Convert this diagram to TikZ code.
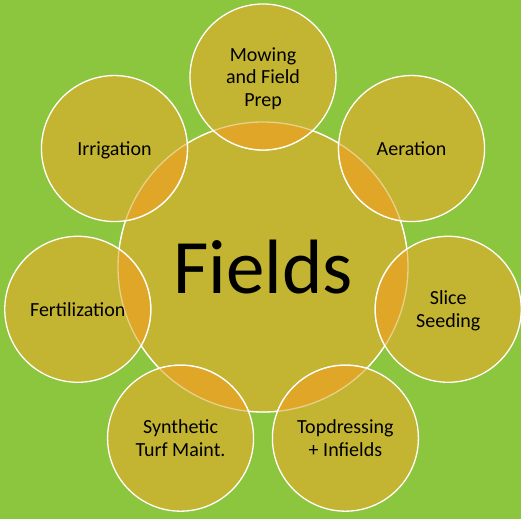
\documentclass[tikz,border=0pt]{standalone}
\usepackage{fontspec}
\setmainfont{Carlito}
\usepackage{xcolor}
\usepackage{tikz}
\usetikzlibrary{positioning}

\definecolor{grass}{HTML}{8CC63F}
\definecolor{olive}{HTML}{C3B531}
\definecolor{lens}{HTML}{E0A628}

\begin{document}
\begin{tikzpicture}[
  x=1pt, y=1pt,
  hub/.style={circle, fill=olive, draw=white, line width=1.3pt, inner sep=0pt, minimum size=290pt, font=\fontsize{77}{80}\selectfont},
  task/.style={circle, fill=olive, draw=white, line width=1.3pt, inner sep=0pt, minimum size=146pt, text depth=0pt, align=center, font=\fontsize{20}{22.5}\selectfont},
  rim/.style={draw=white, line width=1.3pt}
]
  % background
  \fill[grass] (-263,-252) rectangle (258,267);
  \useasboundingbox (-263,-252) rectangle (258,267);

  \node[hub] (fields) at (0,0) {Fields};

  \node[task] (mow) at (90:190) {Mowing\\and Field\\Prep};
  \node[task] (aer) at (38.57:190) {Aeration};
  \node[task] (slice) at (-12.86:190) {Slice\\Seeding};
  \node[task] (top) at (-64.29:190) {Topdressing\\+ Infields};
  \node[task] (syn) at (-115.71:190) {Synthetic\\Turf Maint.};
  \node[task] (fert) at (-167.14:190) {Fertilization};
  \node[task] (irr) at (141.43:190) {Irrigation};

  % overlaps with the hub
  \begin{scope}
    \clip (fields.center) circle (145);
    \fill[lens] (mow.center) circle (73);
    \fill[lens] (aer.center) circle (73);
    \fill[lens] (slice.center) circle (73);
    \fill[lens] (top.center) circle (73);
    \fill[lens] (syn.center) circle (73);
    \fill[lens] (fert.center) circle (73);
    \fill[lens] (irr.center) circle (73);
  \end{scope}
  \draw[rim, opacity=0.45] (fields.center) circle (145);
  \begin{scope}
    \clip (fields.center) circle (145);
    \draw[rim] (mow.center) circle (73);
    \draw[rim] (aer.center) circle (73);
    \draw[rim] (slice.center) circle (73);
    \draw[rim] (top.center) circle (73);
    \draw[rim] (syn.center) circle (73);
    \draw[rim] (fert.center) circle (73);
    \draw[rim] (irr.center) circle (73);
  \end{scope}
\end{tikzpicture}
\end{document}
